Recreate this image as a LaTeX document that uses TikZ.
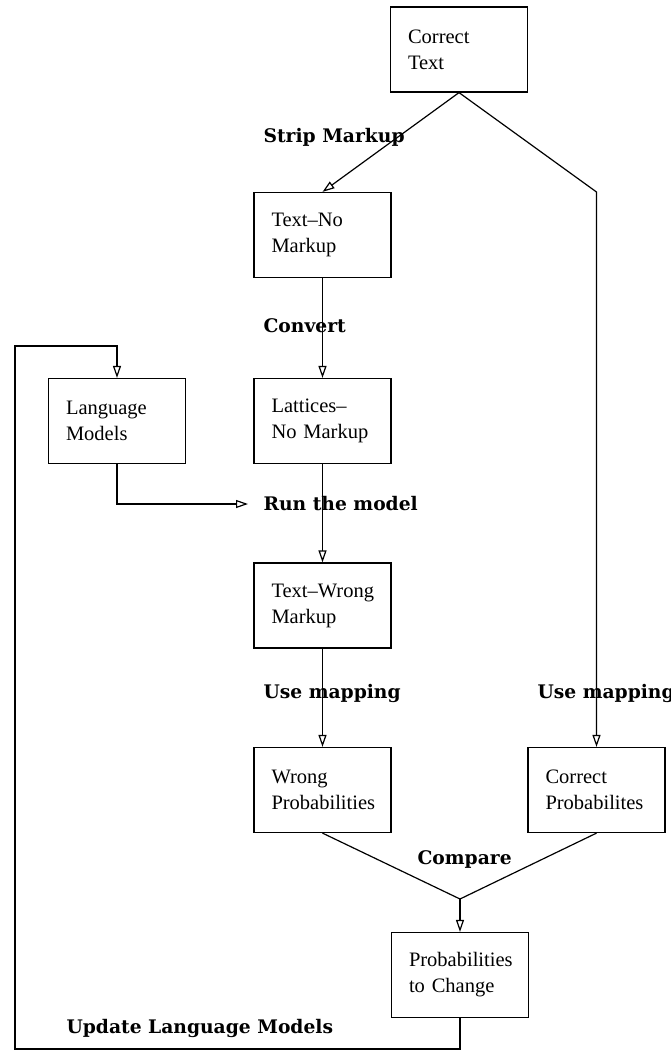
\documentclass[tikz,border=0pt]{standalone}
\usepackage{fontspec}
\setmainfont{Liberation Serif}
\newfontfamily\steplabelfamily{DejaVu Serif}
\usetikzlibrary{arrows.meta}
% bold serif face for the step labels
\newcommand\steplabelfont{\steplabelfamily\bfseries\fontsize{18.7}{22}\selectfont}
\begin{document}
\begin{tikzpicture}[x=1pt,y=-1pt,line width=1.2pt,
  box/.style={draw,line width=1.2pt,minimum width=137pt,minimum height=85pt,
    text width=102pt,inner xsep=17.5pt,inner ysep=0pt,align=left,
    font=\fontsize{20.5}{26}\selectfont},
  lbl/.style={anchor=west,inner sep=0pt,font=\steplabelfont},
  flow/.style={-{Triangle[open,length=12pt,width=8pt]}}]
\useasboundingbox (0,0) rectangle (670,1051);
\fill[white] (0,0) rectangle (670,1051);

% process boxes
\node[box] (ct)  at (459,49.5)  {Correct\\Text};
\node[box] (tnm) at (322.5,235) {\mbox{Text--No}\\Markup};
\node[box] (lm)  at (117,421)   {Language\\Models};
\node[box] (lat) at (322.5,421) {\mbox{Lattices--}\\No Markup};
\node[box] (twm) at (322.5,605.5) {\mbox{Text--Wrong}\\Markup};
\node[box] (wp)  at (322.5,790) {Wrong\\Probabilities};
\node[box] (cp)  at (596.5,790) {Correct\\Probabilites};
\node[box] (pc)  at (460,975)   {Probabilities\\to Change};

% routing points
\coordinate (bend)   at (596.5,192);
\coordinate (runend) at (248,504);
\coordinate (join)   at (460,899);
\coordinate (loopbl) at (15,1049);
\coordinate (looptl) at (15,346);

% connectors
\draw[flow] (ct.south) -- (tnm.north);
\draw[flow] (ct.south) -- (bend) -- (cp.north);
\draw[flow] (tnm.south) -- (lat.north);
\draw[flow] (lm.south) |- (runend);
\draw[flow] (lat.south) -- (twm.north);
\draw[flow] (twm.south) -- (wp.north);
\draw (wp.south) -- (join) -- (cp.south);
\draw[flow] (join) -- (pc.north);
\draw[flow] (pc.south) |- (loopbl) -- (looptl) -| (lm.north);

% step labels
\node[lbl] (strip) at (263,137)  {Strip Markup};
\node[lbl] (conv)  at (263,326)  {Convert};
\node[lbl] (run)   at (263,504)  {Run the model};
\node[lbl] (mapl)  at (263,693)  {Use mapping};
\node[lbl] (mapr)  at (537,693)  {Use mapping};
\node[lbl] (cmp)   at (417,859)  {Compare};
\node[lbl] (upd)   at (66,1028)  {Update Language Models};
\end{tikzpicture}
\end{document}
